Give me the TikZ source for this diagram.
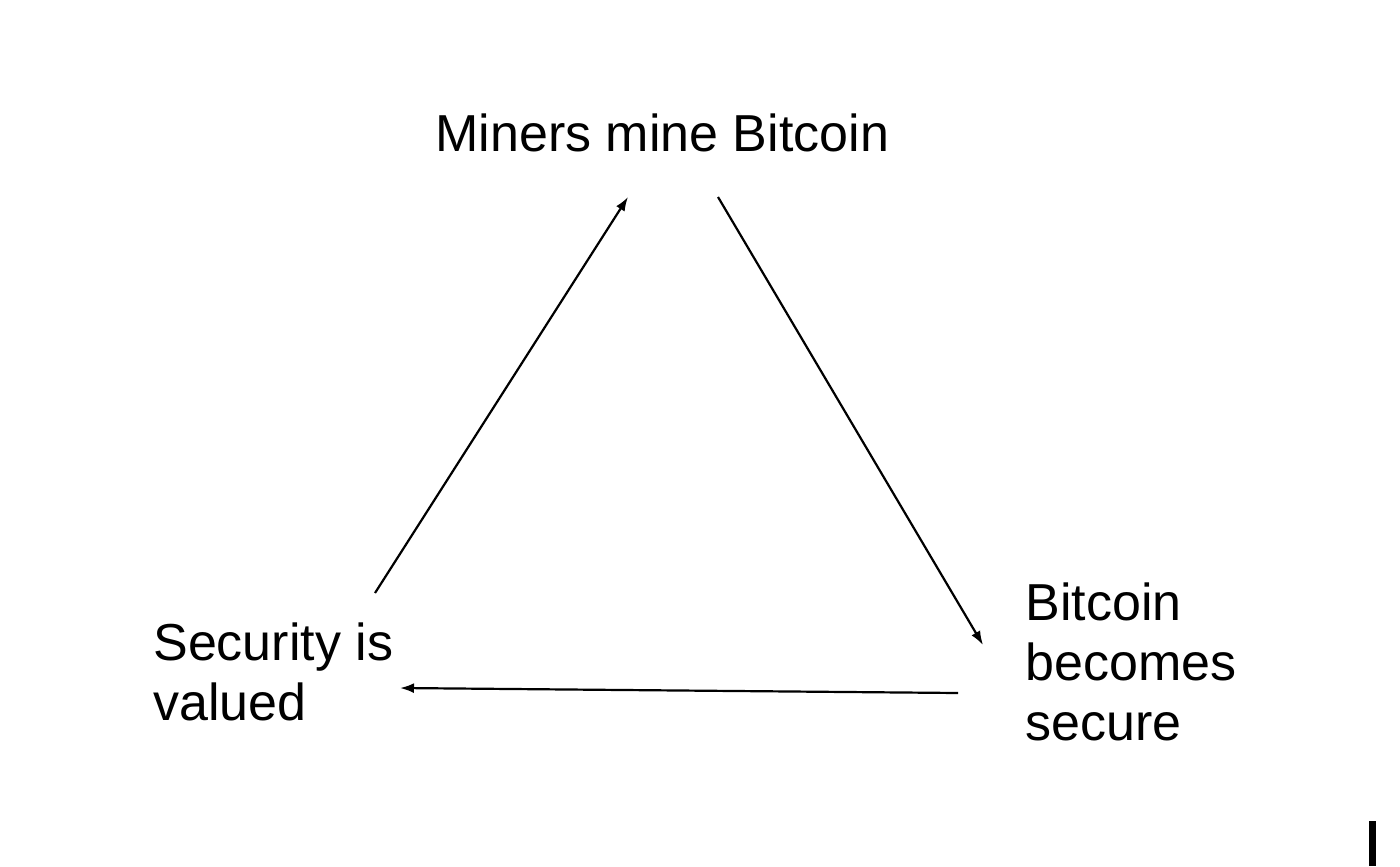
\documentclass[tikz,border=0pt]{standalone}
\usepackage{fontspec}
\setmainfont{Liberation Sans}
\usetikzlibrary{arrows.meta}
\begin{document}
\begin{tikzpicture}[x=0.5pt,y=-0.5pt,
  lbl/.style={font=\fontsize{26}{30}\selectfont,inner sep=0pt,align=left},
  conn/.style={line width=1.1pt,-{Latex[length=7pt,width=5pt]}}]
\useasboundingbox (0,0) rectangle (1400,866);
\node[lbl,anchor=base west] (miners) at (435,152) {Miners mine Bitcoin};
\node[lbl,anchor=base west] (security) at (153,720) {Security is\\valued};
\node[lbl,anchor=base west] (secure) at (1025,740) {Bitcoin\\becomes\\secure};
\coordinate (a1) at (375,593); \coordinate (a2) at (628,197);
\coordinate (b1) at (718,197); \coordinate (b2) at (983,645);
\coordinate (c1) at (958,693); \coordinate (c2) at (400,688);
\draw[conn] (a1) -- (a2);
\draw[conn] (b1) -- (b2);
\draw[conn] (c1) -- (c2);
\fill (1369,821) rectangle (1376,866);
\end{tikzpicture}
\end{document}
